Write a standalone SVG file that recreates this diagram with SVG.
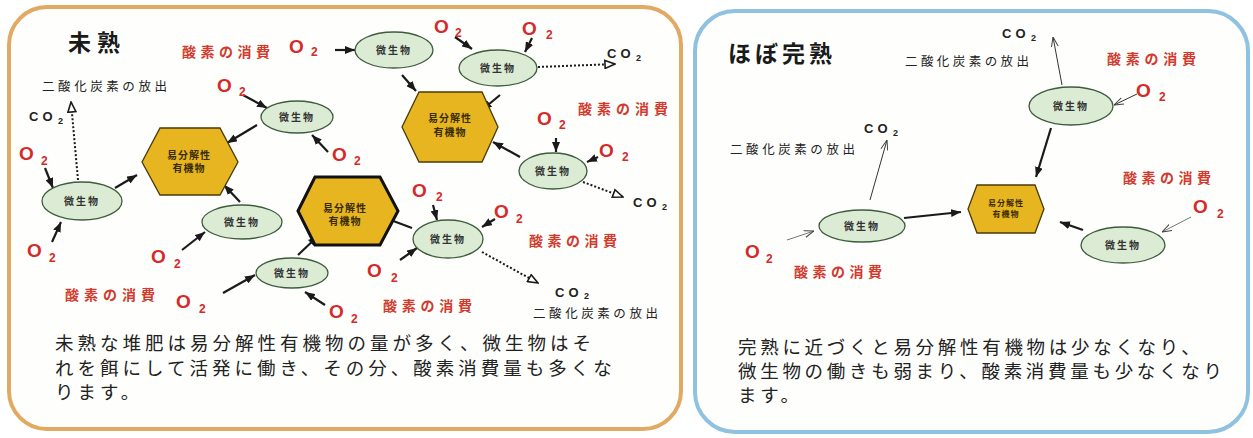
<svg xmlns="http://www.w3.org/2000/svg" width="1253" height="438" viewBox="0 0 1253 438">
<defs>
<style>
.panelL{fill:#fefefc;stroke:#e2a962;stroke-width:4}
.panelR{fill:#fefefd;stroke:#8fc2de;stroke-width:4}
.e{fill:#dcebd3;stroke:#3d5c3d;stroke-width:1.3}
.h{fill:#e6b520;stroke:#4a3a08;stroke-width:1.3}
.hb{stroke:#111;stroke-width:3}
.lbl{font-family:"Noto Sans CJK JP",sans-serif;font-size:10px;font-weight:bold;fill:#333;text-anchor:middle;letter-spacing:2px}
.hl{font-family:"Noto Sans CJK JP",sans-serif;font-size:10px;font-weight:bold;fill:#3a2c05;text-anchor:middle;letter-spacing:1px}
.hs{font-size:8px}
.red{font-family:"Noto Sans CJK JP",sans-serif;font-size:14px;font-weight:bold;fill:#d23a2e}
.o{font-family:"Liberation Sans",sans-serif;font-size:19px;font-weight:bold;fill:#d42a2a}
.s{font-family:"Liberation Sans",sans-serif;font-size:12px;font-weight:bold;fill:#d42a2a}
.co{font-family:"Liberation Sans",sans-serif;font-size:13px;font-weight:bold;fill:#222;letter-spacing:4px}
.cs{font-family:"Liberation Sans",sans-serif;font-size:9px;font-weight:bold;fill:#222}
.rel{font-family:"Noto Sans CJK JP",sans-serif;font-size:12.5px;fill:#222}
.title{font-family:"Noto Sans CJK JP",sans-serif;font-size:23px;font-weight:bold;fill:#1a1a1a;letter-spacing:6px}
.body{font-family:"Noto Sans CJK JP",sans-serif;font-size:18.5px;fill:#222;letter-spacing:4px}
.bodyR{letter-spacing:3.7px}
.sa{stroke:#1a1a1a;stroke-width:2.2;fill:none;marker-end:url(#ah)}
.da{stroke:#1a1a1a;stroke-width:2;stroke-dasharray:2 2;fill:none;marker-end:url(#ad)}
.ta{stroke:#333;stroke-width:1;fill:none;marker-end:url(#at)}
.tg{stroke:#777}
</style>
<marker id="ah" viewBox="0 0 10 8" refX="10" refY="4" markerWidth="10" markerHeight="8" markerUnits="userSpaceOnUse" orient="auto">
<path d="M0,0 L10,4 L0,8 Z" fill="#1a1a1a"/>
</marker>
<marker id="ad" viewBox="0 0 12 10" refX="11" refY="5" markerWidth="12" markerHeight="10" markerUnits="userSpaceOnUse" orient="auto">
<path d="M1,1 L11,5 L1,9 Z" fill="#ffffff" stroke="#1a1a1a" stroke-width="1.6"/>
</marker>
<marker id="at" viewBox="0 0 10 8" refX="10" refY="4" markerWidth="10" markerHeight="8" markerUnits="userSpaceOnUse" orient="auto">
<path d="M0,0.5 L10,4 L0,7.5" fill="none" stroke="#444" stroke-width="1"/>
</marker>
</defs>
<rect width="1253" height="438" fill="#ffffff"/>
<rect class="panelL" x="9" y="7" width="672" height="422" rx="38"/>
<rect class="panelR" x="695" y="11" width="553" height="421" rx="40"/>

<g id="connectors">
<line class="sa" x1="335" y1="50" x2="355" y2="50"/>
<line class="sa" x1="402" y1="75" x2="416" y2="91"/>
<line class="sa" x1="455" y1="37" x2="472" y2="49"/>
<line class="sa" x1="532" y1="38" x2="525" y2="52"/>
<line class="sa" x1="500" y1="95" x2="482" y2="110"/>
<line class="sa" x1="556" y1="138" x2="556" y2="152"/>
<line class="sa" x1="598" y1="157" x2="587" y2="162"/>
<line class="sa" x1="520" y1="157" x2="493" y2="142"/>
<line class="sa" x1="45" y1="168" x2="53" y2="188"/>
<line class="sa" x1="52" y1="242" x2="61" y2="222"/>
<line class="sa" x1="115" y1="188" x2="137" y2="175"/>
<line class="sa" x1="243" y1="95" x2="267" y2="108"/>
<line class="sa" x1="257" y1="125" x2="227" y2="143"/>
<line class="sa" x1="328" y1="152" x2="312" y2="135"/>
<line class="sa" x1="240" y1="202" x2="224" y2="185"/>
<line class="sa" x1="182" y1="250" x2="205" y2="232"/>
<line class="sa" x1="298" y1="255" x2="318" y2="236"/>
<line class="sa" x1="223" y1="293" x2="255" y2="275"/>
<line class="sa" x1="325" y1="305" x2="305" y2="292"/>
<line class="sa" x1="412" y1="228" x2="380" y2="216"/>
<line class="sa" x1="433" y1="205" x2="437" y2="220"/>
<line class="sa" x1="495" y1="219" x2="482" y2="227"/>
<line class="sa" x1="400" y1="260" x2="417" y2="248"/>
<line class="da" x1="78" y1="180" x2="71" y2="102"/>
<line class="da" x1="538" y1="67" x2="615" y2="64"/>
<line class="da" x1="583" y1="182" x2="623" y2="197"/>
<line class="da" x1="482" y1="252" x2="538" y2="283"/>
<line class="ta" x1="1062" y1="85" x2="1053" y2="37"/>
<line class="ta" x1="1137" y1="94" x2="1114" y2="105"/>
<line class="ta" x1="870" y1="200" x2="887" y2="140"/>
<line class="ta tg" x1="787" y1="240" x2="814" y2="231"/>
<line class="ta tg" x1="1191" y1="217" x2="1162" y2="232"/>
<line class="sa" x1="1051" y1="128" x2="1036" y2="177"/>
<line class="sa" x1="904" y1="218" x2="961" y2="212"/>
<line class="sa" x1="1083" y1="230" x2="1060" y2="222"/>
</g>

<g id="h1"><polygon class="h" points="142,162 160,128 220,128 238,162 220,195 160,195"/><text class="hl" x="189" y="159">易分解性</text><text class="hl" x="189" y="172">有機物</text></g>
<g id="h2"><polygon class="h" points="402,127 419,92 482,92 498,127 482,162 419,162"/><text class="hl" x="450" y="122">易分解性</text><text class="hl" x="450" y="136">有機物</text></g>
<g id="h3"><polygon class="h hb" points="298,211 315,177 380,177 398,211 380,245 315,245"/><text class="hl" x="345" y="212">易分解性</text><text class="hl" x="345" y="225">有機物</text></g>
<g id="h4"><polygon class="h" points="968,209 977,185 1035,185 1044,209 1035,233 977,233"/><text class="hl hs" x="1006" y="206">易分解性</text><text class="hl hs" x="1006" y="217">有機物</text></g>

<g id="m1"><ellipse class="e" cx="394" cy="50" rx="39" ry="18"/><text class="lbl" x="394" y="54">微生物</text></g>
<g id="m2"><ellipse class="e" cx="498" cy="68" rx="39" ry="18"/><text class="lbl" x="498" y="72">微生物</text></g>
<g id="m3"><ellipse class="e" cx="297" cy="117" rx="36" ry="16"/><text class="lbl" x="297" y="121">微生物</text></g>
<g id="m4"><ellipse class="e" cx="553" cy="171" rx="34" ry="18"/><text class="lbl" x="553" y="175">微生物</text></g>
<g id="m5"><ellipse class="e" cx="82" cy="201" rx="40" ry="19"/><text class="lbl" x="82" y="205">微生物</text></g>
<g id="m6"><ellipse class="e" cx="242" cy="222" rx="40" ry="17"/><text class="lbl" x="242" y="226">微生物</text></g>
<g id="m7"><ellipse class="e" cx="448" cy="239" rx="35" ry="19"/><text class="lbl" x="448" y="243">微生物</text></g>
<g id="m8"><ellipse class="e" cx="292" cy="273" rx="36" ry="15"/><text class="lbl" x="292" y="277">微生物</text></g>
<g id="r1"><ellipse class="e" cx="1071" cy="106" rx="42" ry="19"/><text class="lbl" x="1071" y="110">微生物</text></g>
<g id="r2"><ellipse class="e" cx="862" cy="226" rx="43" ry="16"/><text class="lbl" x="862" y="230">微生物</text></g>
<g id="r3"><ellipse class="e" cx="1123" cy="245" rx="42" ry="18"/><text class="lbl" x="1123" y="249">微生物</text></g>

<g id="titles">
<text class="title" x="68" y="51">未熟</text>
<text class="title" x="728" y="62" font-size="24" style="letter-spacing:4px">ほぼ完熟</text>
</g>

<g id="oxygen-labels">
<text class="red" x="182" y="57" textLength="88" lengthAdjust="spacing">酸素の消費</text>
<text class="red" x="578" y="114" textLength="90" lengthAdjust="spacing">酸素の消費</text>
<text class="red" x="529" y="246" textLength="88" lengthAdjust="spacing">酸素の消費</text>
<text class="red" x="383" y="311" textLength="89" lengthAdjust="spacing">酸素の消費</text>
<text class="red" x="65" y="300" textLength="90" lengthAdjust="spacing">酸素の消費</text>
<text class="red" x="1107" y="64" textLength="89" lengthAdjust="spacing">酸素の消費</text>
<text class="red" x="1123" y="183" textLength="88" lengthAdjust="spacing">酸素の消費</text>
<text class="red" x="794" y="277" textLength="88" lengthAdjust="spacing">酸素の消費</text>
</g>

<g id="o2">
<text class="o" x="289" y="53">O</text><text class="s" x="311" y="56">2</text>
<text class="o" x="434" y="33">O</text><text class="s" x="455" y="37">2</text>
<text class="o" x="522" y="35">O</text><text class="s" x="546" y="39">2</text>
<text class="o" x="537" y="125">O</text><text class="s" x="559" y="129">2</text>
<text class="o" x="599" y="157">O</text><text class="s" x="622" y="161">2</text>
<text class="o" x="19" y="160">O</text><text class="s" x="41" y="165">2</text>
<text class="o" x="27" y="257">O</text><text class="s" x="49" y="262">2</text>
<text class="o" x="217" y="92">O</text><text class="s" x="239" y="96">2</text>
<text class="o" x="332" y="161">O</text><text class="s" x="354" y="165">2</text>
<text class="o" x="151" y="263">O</text><text class="s" x="174" y="268">2</text>
<text class="o" x="176" y="308">O</text><text class="s" x="199" y="313">2</text>
<text class="o" x="329" y="318">O</text><text class="s" x="351" y="323">2</text>
<text class="o" x="412" y="197">O</text><text class="s" x="436" y="201">2</text>
<text class="o" x="494" y="218">O</text><text class="s" x="516" y="223">2</text>
<text class="o" x="367" y="277">O</text><text class="s" x="391" y="282">2</text>
<text class="o" x="1136" y="97">O</text><text class="s" x="1159" y="101">2</text>
<text class="o" x="1193" y="213">O</text><text class="s" x="1217" y="218">2</text>
<text class="o" x="745" y="258">O</text><text class="s" x="766" y="263">2</text>
</g>

<g id="co2">
<text class="co" x="29" y="121">CO</text><text class="cs" x="58" y="124">2</text>
<text class="co" x="607" y="58">CO</text><text class="cs" x="636" y="61">2</text>
<text class="co" x="633" y="207">CO</text><text class="cs" x="662" y="210">2</text>
<text class="co" x="555" y="297">CO</text><text class="cs" x="584" y="299">2</text>
<text class="co" x="1002" y="38">CO</text><text class="cs" x="1031" y="41">2</text>
<text class="co" x="864" y="133">CO</text><text class="cs" x="893" y="136">2</text>
<text class="rel" x="42" y="91" textLength="125" lengthAdjust="spacing">二酸化炭素の放出</text>
<text class="rel" x="533" y="318" textLength="125" lengthAdjust="spacing">二酸化炭素の放出</text>
<text class="rel" x="905" y="66" textLength="124" lengthAdjust="spacing">二酸化炭素の放出</text>
<text class="rel" x="730" y="154" textLength="125" lengthAdjust="spacing">二酸化炭素の放出</text>
</g>

<g id="captions">
<text class="body" x="55" y="350">未熟な堆肥は易分解性有機物の量が多く、微生物はそ</text>
<text class="body" x="55" y="375">れを餌にして活発に働き、その分、酸素消費量も多くな</text>
<text class="body" x="55" y="399">ります。</text>
<text class="body bodyR" x="738" y="354">完熟に近づくと易分解性有機物は少なくなり、</text>
<text class="body bodyR" x="738" y="378">微生物の働きも弱まり、酸素消費量も少なくなり</text>
<text class="body bodyR" x="738" y="402">ます。</text>
</g>
</svg>
